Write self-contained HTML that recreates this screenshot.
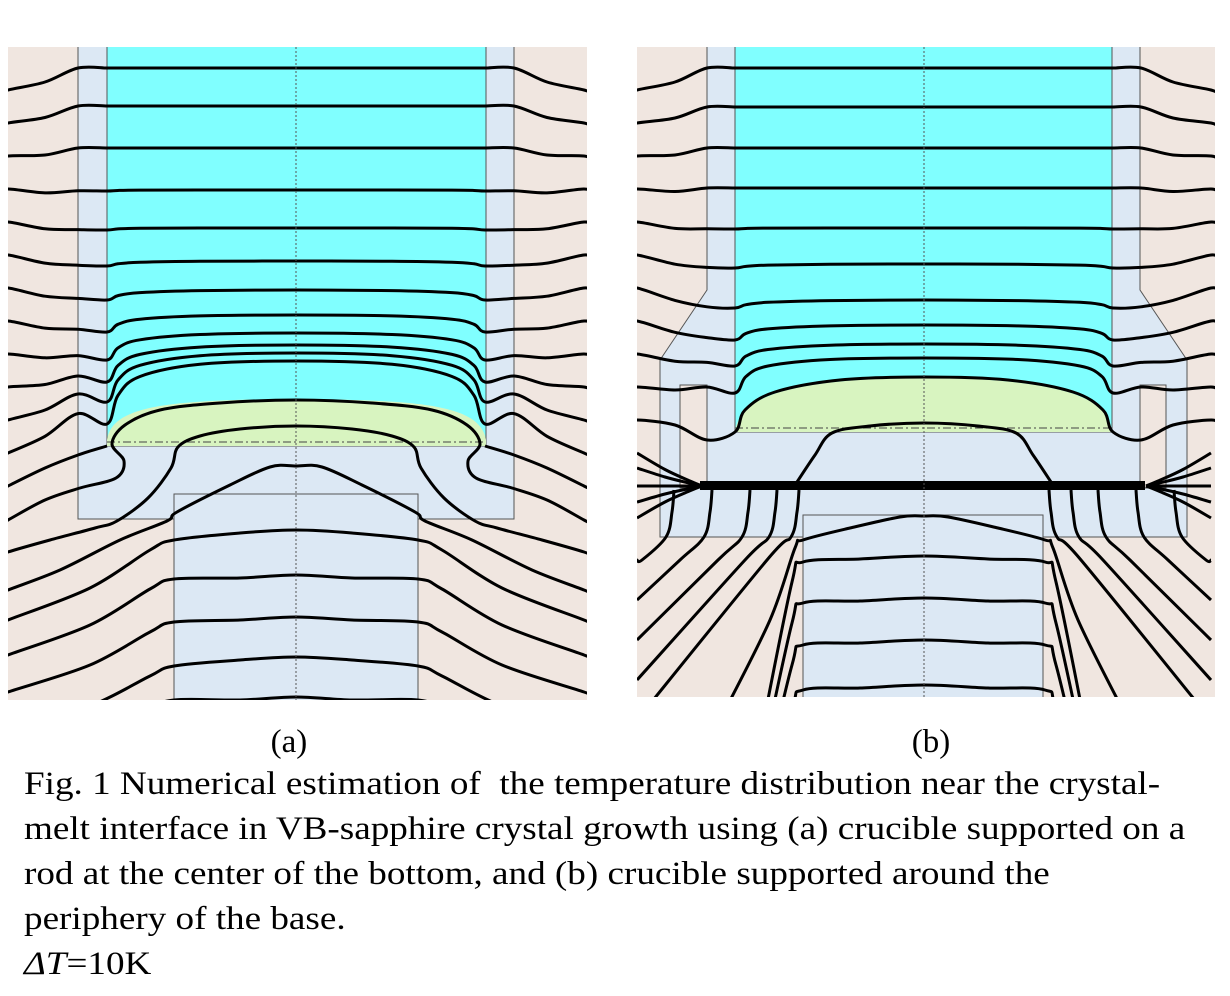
<!DOCTYPE html>
<html><head><meta charset="utf-8">
<style>
html,body{margin:0;padding:0;background:#fff;}
body{width:1230px;height:996px;position:relative;overflow:hidden;}
svg{position:absolute;left:0;top:0;}
.cap{position:absolute;left:24px;font-family:"Liberation Serif",serif;font-size:33px;color:#000;white-space:pre;line-height:45px;transform:scaleX(1.125);transform-origin:0 0;}
</style></head><body>
<svg id="s" width="1230" height="996" xmlns="http://www.w3.org/2000/svg">
<defs>
<clipPath id="ca"><rect x="8" y="47" width="579" height="653"/></clipPath>
<clipPath id="cb"><rect x="637" y="47" width="578" height="650"/></clipPath>
</defs>
<g clip-path="url(#ca)">
<rect x="8" y="47" width="579" height="653" fill="#f0e6e0"/>
<rect x="78" y="40" width="436" height="479" fill="#dce8f4" stroke="#555" stroke-width="1"/>
<rect x="107" y="40" width="379" height="406" fill="#80ffff" stroke="#555" stroke-width="1"/>
<path d="M107,446 L107,440 C112,405 170,400 296,399 C422,400 480,405 486,440 L486,446 Z" fill="#d8f4c0"/>
<rect x="174" y="494" width="244" height="210" fill="#dce8f4" stroke="#555" stroke-width="1"/>
<line x1="107" y1="442" x2="486" y2="442" stroke="#444" stroke-width="1" stroke-dasharray="8,3,2,3"/>
<g id="la" fill="none" stroke="#000" stroke-width="3"></g>
<line x1="296" y1="47" x2="296" y2="700" stroke="#555" stroke-width="1" stroke-dasharray="2,2"/>
</g>
<g clip-path="url(#cb)">
<rect x="637" y="47" width="578" height="650" fill="#f0e6e0"/>
<path d="M707,40 L707,290 L660,360 L660,537 L1187,537 L1187,360 L1140,290 L1140,40 Z" fill="#dce8f4" stroke="#555" stroke-width="1"/>
<rect x="680" y="385" width="27" height="103" fill="#f0e6e0" stroke="#555" stroke-width="1"/>
<rect x="1140" y="385" width="26" height="103" fill="#f0e6e0" stroke="#555" stroke-width="1"/>
<rect x="735" y="40" width="377" height="392" fill="#80ffff" stroke="#555" stroke-width="1"/>
<path d="M735,432 C740,395 790,380 924,377 C1058,380 1108,395 1112,432 Z" fill="#d8f4c0"/>
<rect x="803" y="515" width="240" height="190" fill="#dce8f4" stroke="#555" stroke-width="1"/>
<line x1="735" y1="428" x2="1112" y2="428" stroke="#444" stroke-width="1" stroke-dasharray="8,3,2,3"/>
<g id="lb" fill="none" stroke="#000" stroke-width="3"></g>
<rect x="700" y="481" width="445" height="9" fill="#000"/>
<line x1="924" y1="47" x2="924" y2="697" stroke="#555" stroke-width="1" stroke-dasharray="2,2"/>
</g>
<text x="289" y="752" font-family="Liberation Serif,serif" font-size="33" text-anchor="middle">(a)</text>
<text x="931" y="752" font-family="Liberation Serif,serif" font-size="33" text-anchor="middle">(b)</text>
</svg>
<div class="cap" style="top:762px;">Fig. 1 Numerical estimation of  the temperature distribution near the crystal-
melt interface in VB-sapphire crystal growth using (a) crucible supported on a
rod at the center of the bottom, and (b) crucible supported around the
periphery of the base.
<i>ΔT</i>=10K</div>
<script>
function cr(p){var d="M"+p[0][0]+","+p[0][1];for(var i=0;i<p.length-1;i++){var p0=p[i-1]||p[i],p1=p[i],p2=p[i+1],p3=p[i+2]||p2;
var c1x=p1[0]+(p2[0]-p0[0])/6,c1y=p1[1]+(p2[1]-p0[1])/6,c2x=p2[0]-(p3[0]-p1[0])/6,c2y=p2[1]-(p3[1]-p1[1])/6;
d+=" C"+c1x.toFixed(1)+","+c1y.toFixed(1)+" "+c2x.toFixed(1)+","+c2y.toFixed(1)+" "+p2[0]+","+p2[1];}return d;}
function add(g,p){var e=document.createElementNS("http://www.w3.org/2000/svg","path");e.setAttribute("d",cr(p));g.appendChild(e);}
function sym(g,p,cx){var q=p.slice();for(var i=p.length-2;i>=0;i--)q.push([2*cx-p[i][0],p[i][1]]);add(g,q);}
function both(g,p,cx){add(g,p);add(g,p.map(function(v){return[2*cx-v[0],v[1]];}));}
var ga=document.getElementById("la"),cx=296;
var c=[68,106,148,190,228,262,292,318,338,352,362,372],d=[0,0,0,1,2,4,8,14,22,30,40,52],a=[0,0,0,0,0,1,2,3,5,7,9,11];
for(var i=0;i<12;i++){var E=90+33*i,W=c[i]+d[i]*0.8;
sym(ga,[[0,E+4],[8,E],[45,(E+W)/2+3],[78,W],[107,c[i]+d[i]],[118,c[i]+d[i]*0.45],[140,c[i]+d[i]*0.15-a[i]*0.3],[200,c[i]-a[i]*0.7],[296,c[i]-a[i]]],cx);}
sym(ga,[[0,524],[8,520],[45,500],[80,488],[116,478],[124,461],[112,444],[125,425],[160,410],[220,403],[296,400]],cx);
sym(ga,[[0,556],[8,552],[50,540],[95,528],[117,521],[148,498],[171,468],[178,447],[200,436],[240,429],[296,426]],cx);
both(ga,[[0,490],[8,486],[45,468],[78,455],[107,446]],cx);
sym(ga,[[0,594],[8,590],[60,570],[120,540],[167,521],[177,512],[230,485],[270,467],[296,466]],cx);
var rc=[530,575,617,657,697],rr=[540,579,622,666,700],re=[620,655,692,730,770];
for(var k=0;k<5;k++){sym(ga,[[0,re[k]+4],[8,re[k]],[90,(re[k]+rr[k])/2+8],[150,rr[k]+10],[174,rr[k]],[240,rc[k]+3],[296,rc[k]]],cx);}
var gb=document.getElementById("lb");cx=924;
var cb=[68,107,148,188,228,265,302,328,348,363],db=[0,0,0,0,1,3,6,12,18,30],ab=[0,0,0,0,0,1,2,3,4,5];
for(var i=0;i<10;i++){var E=90+33*i,W=cb[i]+db[i]*0.8;
sym(gb,[[630,E+4],[637,E],[675,(E+W)/2+3],[707,W],[735,cb[i]+db[i]],[746,cb[i]+db[i]*0.45],[768,cb[i]+db[i]*0.15-ab[i]*0.3],[830,cb[i]-ab[i]*0.7],[924,cb[i]-ab[i]]],cx);}
sym(gb,[[630,424],[637,420],[675,425],[707,440],[735,432],[745,410],[775,392],[840,380],[924,377]],cx);
sym(gb,[[797,482],[815,455],[832,433],[870,426],[924,423]],cx);
var se=[453,468,486,502,518];
for(var k=0;k<5;k++){both(gb,[[637,se[k]],[665,se[k]+(486-se[k])*0.5],[690,486-(486-se[k])*0.15],[702,486]],cx);}
var be=[560,600,640,680,720],bx=[672,710,748,775,797];
for(var k=0;k<5;k++){both(gb,[[637,be[k]],[bx[k]-30,560],[bx[k]-6,537],[bx[k],512],[bx[k]+2,490]],cx);}
sym(gb,[[720,720],[770,620],[795,548],[803,540],[850,528],[900,517],[924,516]],cx);
var rcb=[556,598,640,685],rrb=[562,603,645,690];
for(var k=0;k<4;k++){sym(gb,[[760,740+k*30],[792,rrb[k]+20],[803,rrb[k]],[860,rcb[k]+3],[924,rcb[k]]],cx);}
</script>
</body></html>
